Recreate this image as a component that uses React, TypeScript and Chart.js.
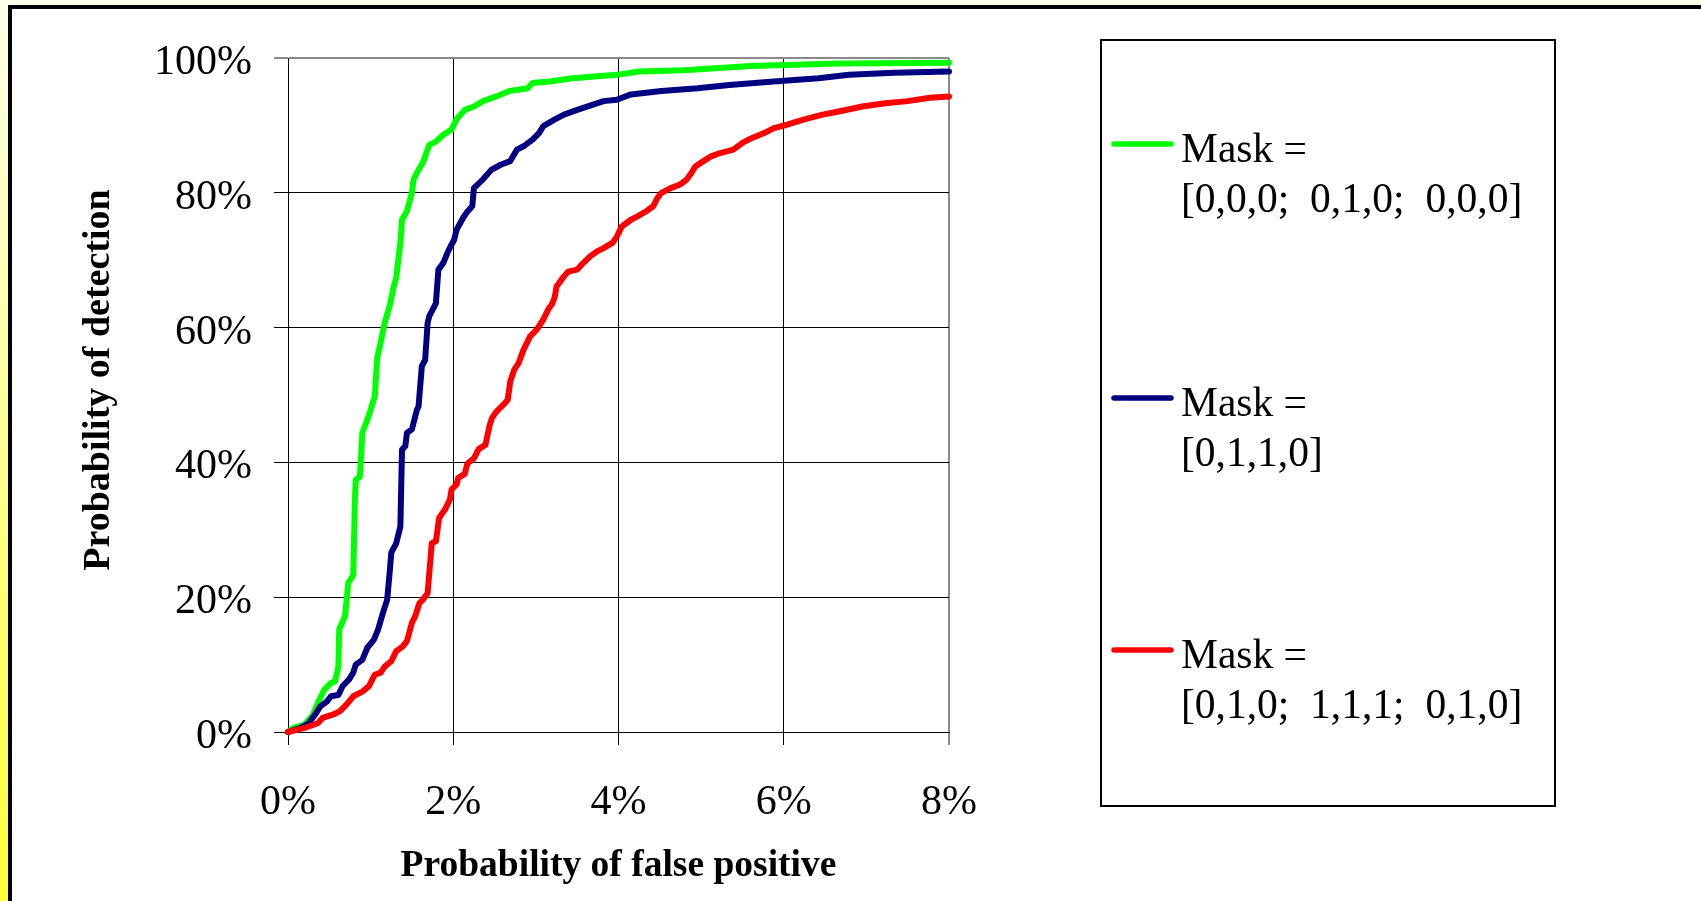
import React, { useEffect, useRef } from "react";
import { Chart, registerables } from "chart.js";

Chart.register(...registerables);

// ---- data ----
const greenX = [0, 0.065, 0.2, 0.3, 0.36, 0.44, 0.52, 0.57, 0.61, 0.62, 0.69, 0.71, 0.73, 0.79, 0.81, 0.82, 0.87, 0.9, 0.98, 1.05, 1.08, 1.12, 1.17, 1.23, 1.28, 1.31, 1.36, 1.38, 1.44, 1.5, 1.52, 1.58, 1.63, 1.71, 1.79, 1.88, 1.98, 2.04, 2.14, 2.25, 2.36, 2.52, 2.68, 2.9, 2.96, 3.17, 3.44, 3.98, 4.25, 4.79, 5.6, 6.68, 8.0, 8.13];
const greenY = [0, 0.6, 1.1, 2.5, 4.3, 6.3, 7.3, 7.5, 9.7, 15.2, 17.2, 19.6, 22.1, 23.3, 34.5, 37.4, 37.9, 44.4, 47.0, 49.8, 55.5, 57.7, 60.7, 63.2, 66.1, 67.4, 72.6, 76.0, 77.3, 80.0, 82.0, 83.4, 84.4, 87.1, 87.6, 88.6, 89.4, 90.9, 92.3, 92.8, 93.6, 94.3, 95.1, 95.5, 96.3, 96.5, 97.0, 97.5, 98.0, 98.2, 98.8, 99.2, 99.3, 99.35];

const blueX = [0, 0.15, 0.25, 0.34, 0.39, 0.47, 0.52, 0.61, 0.66, 0.74, 0.79, 0.82, 0.9, 0.96, 1.04, 1.09, 1.15, 1.2, 1.23, 1.25, 1.31, 1.36, 1.38, 1.42, 1.44, 1.5, 1.56, 1.58, 1.62, 1.66, 1.69, 1.71, 1.79, 1.82, 1.88, 1.93, 1.97, 2.01, 2.04, 2.12, 2.17, 2.23, 2.25, 2.36, 2.46, 2.58, 2.69, 2.77, 2.85, 2.96, 3.04, 3.09, 3.23, 3.34, 3.5, 3.82, 3.98, 4.15, 4.52, 4.96, 5.34, 5.88, 6.42, 6.79, 7.34, 8.0, 8.13];
const blueY = [0, 0.6, 1.3, 2.8, 3.8, 4.5, 5.3, 5.5, 6.8, 7.8, 8.8, 10.0, 10.7, 12.5, 13.7, 15.2, 17.7, 19.6, 23.6, 26.6, 28.0, 30.5, 41.9, 42.4, 44.4, 44.9, 47.8, 48.3, 54.3, 55.2, 60.7, 61.7, 63.6, 68.6, 69.6, 71.1, 72.1, 73.0, 74.5, 76.3, 77.2, 78.0, 80.7, 82.0, 83.4, 84.2, 84.7, 86.4, 86.9, 87.9, 88.9, 89.9, 90.9, 91.6, 92.3, 93.6, 93.8, 94.6, 95.1, 95.5, 96.0, 96.5, 97.0, 97.5, 97.8, 98.0, 98.1];

const redX = [0, 0.2, 0.36, 0.42, 0.55, 0.63, 0.71, 0.79, 0.9, 0.98, 1.05, 1.12, 1.17, 1.25, 1.31, 1.39, 1.44, 1.5, 1.54, 1.59, 1.63, 1.69, 1.74, 1.79, 1.83, 1.9, 1.96, 1.98, 2.04, 2.06, 2.14, 2.17, 2.25, 2.31, 2.39, 2.44, 2.47, 2.52, 2.61, 2.66, 2.69, 2.74, 2.79, 2.85, 2.93, 3.01, 3.09, 3.15, 3.2, 3.23, 3.25, 3.34, 3.39, 3.5, 3.55, 3.66, 3.74, 3.82, 3.93, 3.98, 4.04, 4.15, 4.23, 4.34, 4.42, 4.47, 4.52, 4.63, 4.74, 4.82, 4.88, 4.93, 4.99, 5.12, 5.23, 5.39, 5.5, 5.61, 5.77, 5.88, 6.04, 6.25, 6.47, 6.68, 6.95, 7.23, 7.5, 7.77, 8.0, 8.13];
const redY = [0, 0.6, 1.3, 2.1, 2.6, 3.1, 4.1, 5.3, 6.0, 6.8, 8.5, 8.8, 9.7, 10.5, 12.0, 12.7, 13.5, 16.2, 17.2, 19.1, 19.6, 20.6, 28.0, 28.3, 31.8, 33.0, 34.5, 36.0, 36.7, 37.7, 38.3, 39.8, 40.6, 42.0, 42.6, 45.5, 46.6, 47.5, 48.6, 49.3, 52.0, 53.8, 54.7, 56.7, 58.7, 59.7, 61.2, 62.7, 63.6, 64.6, 66.1, 67.6, 68.3, 68.6, 69.3, 70.6, 71.3, 71.8, 72.6, 73.5, 75.0, 76.0, 76.5, 77.3, 78.0, 79.2, 80.0, 80.7, 81.2, 81.9, 82.9, 83.9, 84.4, 85.4, 85.9, 86.4, 87.4, 88.1, 88.9, 89.6, 90.1, 90.9, 91.6, 92.1, 92.8, 93.3, 93.6, 94.1, 94.3, 94.6];

const seriesNames = [
  ["Mask =", "[0,0,0;  0,1,0;  0,0,0]"],
  ["Mask =", "[0,1,1,0]"],
  ["Mask =", "[0,1,0;  1,1,1;  0,1,0]"],
];
const seriesColors = ["#00FF00", "#000080", "#FF0000"];

const xAxisTitle = "Probability of false positive";
const yAxisTitle = "Probability of detection";
const xMin = 0, xMax = 8, xStep = 2;
const yMin = 0, yMax = 100, yStep = 20;

const FONT = "'Liberation Serif', 'Times New Roman', serif";

const toPoints = (xs: number[], ys: number[]) => xs.map((x, i) => ({ x, y: ys[i] }));

const extrasPlugin = {
  id: "boxLegendAndYTitle",
  afterDraw(chart: any) {
    const ctx = chart.ctx;
    ctx.save();
    // y axis title
    ctx.save();
    ctx.translate(99, 380);
    ctx.rotate(-Math.PI / 2);
    ctx.fillStyle = "#000";
    ctx.font = `bold 38px ${FONT}`;
    ctx.textAlign = "center";
    ctx.textBaseline = "middle";
    ctx.fillText(yAxisTitle, 0, 0);
    ctx.restore();
    // legend box
    ctx.strokeStyle = "#000";
    ctx.lineWidth = 2;
    ctx.strokeRect(1101, 40, 454, 766);
    const itemY = [144, 398, 650];
    chart.data.datasets.forEach((ds: any, i: number) => {
      const y = itemY[i];
      ctx.strokeStyle = ds.borderColor;
      ctx.lineWidth = 5.5;
      ctx.lineCap = "round";
      ctx.beginPath();
      ctx.moveTo(1114, y);
      ctx.lineTo(1171, y);
      ctx.stroke();
      ctx.fillStyle = "#000";
      ctx.font = `41.5px ${FONT}`;
      ctx.textAlign = "left";
      ctx.textBaseline = "alphabetic";
      const lines: string[] = ds.legendLines;
      lines.forEach((t, j) => ctx.fillText(t, 1181, y + 18 + j * 50));
    });
    ctx.restore();
  },
};

export default function App() {
  const canvasRef = useRef<HTMLCanvasElement | null>(null);

  useEffect(() => {
    const canvas = canvasRef.current;
    if (!canvas) return;
    const gray = "#8a8a8a";
    const chart = new Chart(canvas, {
      type: "line",
      data: {
        datasets: [
          { xs: greenX, ys: greenY },
          { xs: blueX, ys: blueY },
          { xs: redX, ys: redY },
        ].map((s, i) => ({
          label: seriesNames[i].join(" "),
          legendLines: seriesNames[i],
          data: toPoints(s.xs, s.ys),
          borderColor: seriesColors[i],
          backgroundColor: seriesColors[i],
          borderWidth: 6,
          pointRadius: 0,
          tension: 0,
          fill: false,
          clip: false,
          borderJoinStyle: "round",
          borderCapStyle: "round",
          order: 2 - i,
        })) as any,
      },
      options: {
        animation: false,
        responsive: false,
        devicePixelRatio: 1,
        events: [],
        layout: { padding: { left: 0, right: 752, top: 58, bottom: 0 } },
        plugins: {
          legend: { display: false },
          tooltip: { enabled: false },
          title: { display: false },
        },
        scales: {
          x: {
            type: "linear",
            min: xMin,
            max: xMax,
            ticks: {
              stepSize: xStep,
              callback: (v: any) => `${v}%`,
              font: { family: FONT, size: 42 },
              color: "#000",
              padding: 33,
              maxRotation: 0,
            },
            grid: {
              color: (c: any) => (c.tick && c.tick.value === xMax ? gray : "#000"),
              lineWidth: (c: any) => (c.tick && c.tick.value === xMax ? 2 : 1),
              tickLength: 13,
            },
            border: { color: "#000", width: 1 },
            title: {
              display: true,
              text: xAxisTitle,
              font: { family: FONT, size: 37.5, weight: "bold" },
              color: "#000",
              padding: { top: 0, bottom: 12 },
            },
            afterFit: (s: any) => {
              s.height = 169;
            },
          },
          y: {
            type: "linear",
            min: yMin,
            max: yMax,
            ticks: {
              stepSize: yStep,
              callback: (v: any) => `${v}%`,
              font: { family: FONT, size: 42 },
              color: "#000",
              padding: 22,
              labelOffset: 5,
            },
            grid: {
              color: (c: any) => (c.tick && c.tick.value === yMax ? gray : "#000"),
              lineWidth: (c: any) => (c.tick && c.tick.value === yMax ? 2 : 1),
              tickLength: 14,
            },
            border: { color: "#000", width: 1 },
            title: { display: false, text: yAxisTitle },
            afterFit: (s: any) => {
              s.width = 288;
            },
          },
        },
      } as any,
      plugins: [extrasPlugin],
    });
    return () => chart.destroy();
  }, []);

  return (
    <div
      style={{
        position: "fixed",
        left: 0,
        top: 0,
        width: 1701,
        height: 901,
        overflow: "hidden",
        background: "linear-gradient(to bottom, #FFFFE8, #FFFF3A)",
      }}
    >
      <div
        style={{
          position: "absolute",
          left: 8,
          top: 5,
          width: 1720,
          height: 920,
          background: "#fff",
          borderLeft: "4px solid #000",
          borderTop: "4px solid #000",
        }}
      />
      <canvas
        ref={canvasRef}
        width={1701}
        height={901}
        style={{ position: "absolute", left: 0, top: 0, width: 1701, height: 901 }}
      />
    </div>
  );
}
